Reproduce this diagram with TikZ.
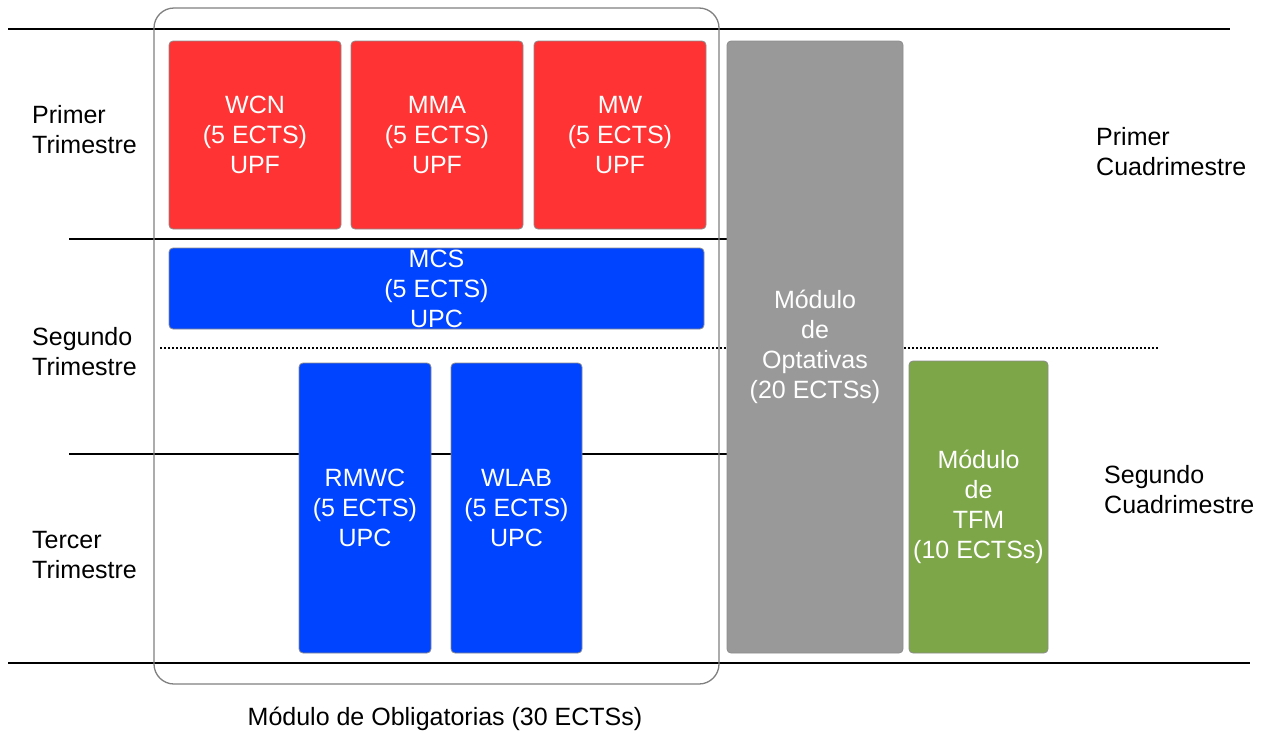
\documentclass[tikz,border=0pt]{standalone}
\usepackage{fontspec}
\setmainfont{Liberation Sans}
\begin{document}
\begin{tikzpicture}[x=1pt,y=-1pt,
  every node/.style={font=\fontsize{25}{30}\selectfont},
  course/.style={draw=black!45, line width=0.8pt, rounded corners=4pt, text=white, align=center, inner sep=0pt},
  redc/.style={course, fill=red!80!white},
  bluec/.style={course, fill={rgb,255:red,0;green,68;blue,255}},
  grayc/.style={course, fill=black!40},
  greenc/.style={course, fill={rgb,255:red,125;green,166;blue,72}},
  label/.style={align=left, anchor=west, inner sep=0pt, text=black},
  rule/.style={line width=2pt, black}
]
\useasboundingbox (0,0) rectangle (1266,734);
% horizontal rules
\coordinate (t1) at (8,29);   \coordinate (t2) at (1230,29);
\coordinate (a1) at (69,239); \coordinate (a2) at (727,239);
\coordinate (d1) at (160,348); \coordinate (d2) at (1158,348);
\coordinate (b1) at (69,454); \coordinate (b2) at (727,454);
\coordinate (e1) at (8,663);  \coordinate (e2) at (1250,663);
\draw[rule] (t1) -- (t2);
\draw[rule] (a1) -- (a2);
\draw[rule] (b1) -- (b2);
\draw[rule] (e1) -- (e2);
\draw[black, line width=1.3pt, dash pattern=on 2pt off 2pt] (d1) -- (d2);
% obligatory module frame
\draw[black!50, line width=1.3pt, rounded corners=20pt] (154,8) rectangle (719,684);
% courses
\node[redc, minimum width=172, minimum height=188] (wcn) at (255,135) {WCN\\(5 ECTS)\\UPF};
\node[redc, minimum width=172, minimum height=188] (mma) at (437,135) {MMA\\(5 ECTS)\\UPF};
\node[redc, minimum width=172, minimum height=188] (mw) at (620,135) {MW\\(5 ECTS)\\UPF};
\node[bluec, minimum width=535, minimum height=81] (mcs) at (436.5,288.5) {MCS\\(5 ECTS)\\UPC};
\node[bluec, minimum width=132, minimum height=290] (rmwc) at (365,508) {RMWC\\(5 ECTS)\\UPC};
\node[bluec, minimum width=131, minimum height=290] (wlab) at (516.5,508) {WLAB\\(5 ECTS)\\UPC};
\node[grayc, minimum width=176, minimum height=612] (opt) at (815,347) {Módulo\\de\\Optativas\\(20 ECTSs)};
\node[greenc, minimum width=139, minimum height=292] (tfm) at (978.5,507) {Módulo\\de\\TFM\\(10 ECTSs)};
% labels
\node[label] (l1) at (32,130) {Primer\\Trimestre};
\node[label] (l2) at (32,352) {Segundo\\Trimestre};
\node[label] (l3) at (32,555) {Tercer\\Trimestre};
\node[label] (r1) at (1096,152) {Primer\\Cuadrimestre};
\node[label] (r2) at (1104,490) {Segundo\\Cuadrimestre};
\node[inner sep=0pt] (obl) at (445,719) {Módulo de Obligatorias (30 ECTSs)};
\end{tikzpicture}
\end{document}
